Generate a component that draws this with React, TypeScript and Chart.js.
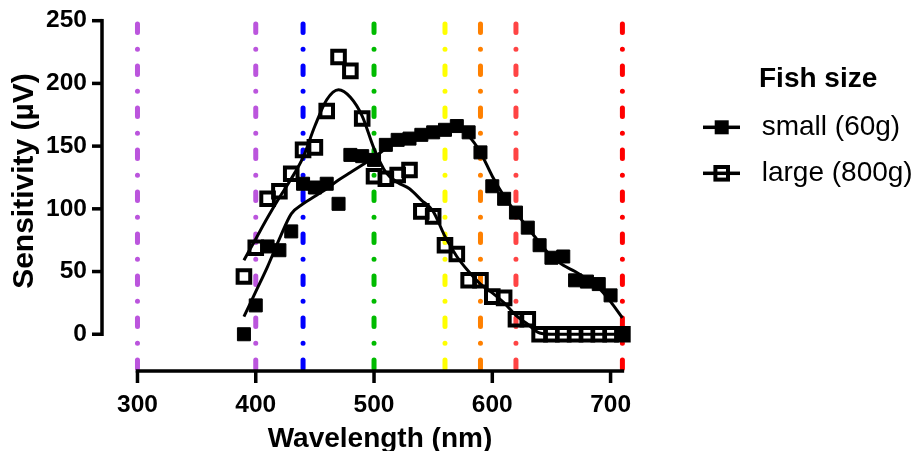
import React, { useEffect, useRef } from 'react';
import { Chart, registerables } from 'chart.js';

Chart.register(...registerables);

// ---- data ----
const wavelengths = [390, 400, 410, 420, 430, 440, 450, 460, 470, 480, 490, 500, 510, 520, 530, 540, 550, 560, 570, 580, 590, 600, 610, 620, 630, 640, 650, 660, 670, 680, 690, 700, 710];
const smallValues = [0, 23, 70, 67, 82, 120, 117, 120, 104, 143, 142, 139, 151, 155, 156, 159, 161, 163, 166, 161, 145, 118, 108, 97, 85, 71, 61, 62, 43, 42, 40, 31, 0];
const largeValues = [46, 69, 108, 114, 128, 147, 149, 178, 221, 210, 172, 126, 124, 127, 131, 98, 94, 71, 64, 43, 43, 30, 29, 12, 12, 0, 0, 0, 0, 0, 0, 0, 0];
const smallFit = [14, 34, 54, 76, 96, 104, 110, 116, 123, 129, 135, 141, 148, 153, 156, 159, 161, 163, 165, 158, 145, 126, 110, 97, 85, 73, 62, 55, 50, 44, 37, 26, 13];
const largeFit = [59, 76, 93, 109, 124, 141, 166, 187, 195, 189, 174, 148, 129, 121, 116, 107, 98, 78, 62, 50, 40, 33, 25, 15, 8, 1, 0, 0, 0, 0, 0, 0, 0];
const xTickValues = [300, 400, 500, 600, 700];
const yTickValues = [0, 50, 100, 150, 200, 250];
const guideWavelengths = [300, 400, 440, 500, 560, 590, 620, 710];
const seriesLabels = ['small (60g)', 'large (800g)'];
const legendTitle = 'Fish size';
const xTitle = 'Wavelength (nm)';
const yTitle = 'Sensitivity (µV)';

// ---- styles ----
const guideColors = ['#bb55dd', '#bb55dd', '#0000ff', '#00bb00', '#ffff00', '#ff8000', '#ff4444', '#ff0000'];
const FONT = '"Liberation Sans", Arial, Helvetica, sans-serif';
const FILLED_R = 9.2;
const OPEN_R = 8.9;
const AXIS_W = 3.5;
const TICK_LEN = 10;

const decorPlugin = {
  id: 'decor',
  beforeDatasetsDraw(chart: any) {
    const { ctx, chartArea, scales } = chart;
    const xs = scales.x;
    const ys = scales.y;
    const top = ys.getPixelForValue(yTickValues[yTickValues.length - 1]);
    ctx.save();
    ctx.lineWidth = 5;
    ctx.lineCap = 'round';
    ctx.setLineDash([8.5, 16.75, 0, 16.75]);
    guideWavelengths.forEach((w, i) => {
      const px = xs.getPixelForValue(w);
      ctx.strokeStyle = guideColors[i];
      ctx.beginPath();
      ctx.moveTo(px, top + 3.35);
      ctx.lineTo(px, chartArea.bottom);
      ctx.stroke();
    });
    ctx.restore();
  },
  afterDraw(chart: any) {
    const { ctx, chartArea, scales } = chart;
    const xs = scales.x;
    const ys = scales.y;
    ctx.save();
    ctx.setLineDash([]);
    ctx.fillStyle = '#000';
    const h = AXIS_W / 2;
    const yTop = ys.getPixelForValue(yTickValues[yTickValues.length - 1]);
    const yZero = ys.getPixelForValue(0);
    // y axis line (0..250)
    ctx.fillRect(chartArea.left - h, yTop - h, AXIS_W, yZero - yTop + AXIS_W);
    // y ticks
    yTickValues.forEach((v) => {
      const py = ys.getPixelForValue(v);
      ctx.fillRect(chartArea.left - TICK_LEN, py - h, TICK_LEN, AXIS_W);
    });
    // x axis line (300..710)
    const x0 = xs.getPixelForValue(xTickValues[0]);
    const x1 = xs.getPixelForValue(wavelengths[wavelengths.length - 1]);
    ctx.fillRect(x0 - h, chartArea.bottom - h, x1 - x0 + AXIS_W, AXIS_W);
    // x ticks
    xTickValues.forEach((v) => {
      const px = xs.getPixelForValue(v);
      ctx.fillRect(px - h, chartArea.bottom, AXIS_W, TICK_LEN + 2);
    });

    // axis titles
    ctx.font = `bold 28px ${FONT}`;
    ctx.textAlign = 'center';
    ctx.textBaseline = 'alphabetic';
    ctx.fillText(xTitle, (x0 + x1) / 2, 447);

    ctx.save();
    ctx.translate(33, 181);
    ctx.rotate(-Math.PI / 2);
    ctx.font = `bold 30px ${FONT}`;
    ctx.fillText(yTitle, 0, 0);
    ctx.restore();

    // legend
    ctx.textAlign = 'left';
    ctx.font = `bold 28px ${FONT}`;
    ctx.fillText(legendTitle, 759, 87);
    const rowsY = [127.3, 173.3];
    ctx.strokeStyle = '#000';
    seriesLabels.forEach((label, i) => {
      const cy = rowsY[i];
      ctx.fillRect(703, cy - h, 37, AXIS_W);
      const cx = 721.7;
      if (i === 0) {
        const s = FILLED_R * Math.SQRT2 + 1;
        ctx.fillRect(cx - s / 2, cy - s / 2, s, s);
      } else {
        const s = OPEN_R * Math.SQRT2;
        ctx.lineWidth = 4;
        ctx.strokeRect(cx - s / 2, cy - s / 2, s, s);
      }
      ctx.font = `28px ${FONT}`;
      ctx.fillText(label, 761.7, cy + 7.5);
    });
    ctx.restore();
  },
};

const hiddenGrid = {
  display: true,
  drawOnChartArea: false,
  drawTicks: true,
  tickLength: TICK_LEN,
  color: 'rgba(0,0,0,0)',
  lineWidth: 0,
};

export default function App() {
  const canvasRef = useRef<HTMLCanvasElement | null>(null);

  useEffect(() => {
    const canvas = canvasRef.current;
    if (!canvas) return;
    const chart = new Chart(canvas, {
      type: 'scatter',
      data: {
        datasets: [
          {
            label: seriesLabels[0],
            data: wavelengths.map((x, i) => ({ x, y: smallValues[i] })),
            showLine: false,
            pointStyle: 'rect',
            pointRadius: FILLED_R,
            backgroundColor: '#000',
            borderColor: '#000',
            borderWidth: 1,
            clip: false,
          } as any,
          {
            label: seriesLabels[1],
            data: wavelengths.map((x, i) => ({ x, y: largeValues[i] })),
            showLine: false,
            pointStyle: 'rect',
            pointRadius: OPEN_R,
            backgroundColor: 'rgba(0,0,0,0)',
            borderColor: '#000',
            borderWidth: 4,
            clip: false,
          } as any,
          {
            label: 'fit small',
            data: wavelengths.map((x, i) => ({ x, y: smallFit[i] })),
            showLine: true,
            pointRadius: 0,
            borderColor: '#000',
            borderWidth: 3,
            cubicInterpolationMode: 'monotone',
            clip: false,
          } as any,
          {
            label: 'fit large',
            data: wavelengths.map((x, i) => ({ x, y: largeFit[i] })),
            showLine: true,
            pointRadius: 0,
            borderColor: '#000',
            borderWidth: 3,
            cubicInterpolationMode: 'monotone',
            clip: false,
          } as any,
        ],
      },
      options: {
        animation: false,
        responsive: true,
        maintainAspectRatio: false,
        layout: { padding: { left: 0, top: 20.7, right: 921 - 622.4, bottom: 0 } },
        plugins: {
          legend: { display: false },
          tooltip: { enabled: false },
        },
        scales: {
          x: {
            type: 'linear',
            min: 270,
            max: 710,
            afterBuildTicks: (s: any) => {
              s.ticks = xTickValues.map((v) => ({ value: v }));
            },
            afterFit: (s: any) => {
              s.height = 80;
            },
            grid: hiddenGrid,
            border: { display: false },
            ticks: {
              color: '#000',
              font: { family: FONT, size: 24.5, weight: 'bold' },
              padding: 10,
              maxRotation: 0,
              autoSkip: false,
            },
          },
          y: {
            type: 'linear',
            min: -29.3,
            max: 250,
            afterBuildTicks: (s: any) => {
              s.ticks = yTickValues.map((v) => ({ value: v }));
            },
            afterFit: (s: any) => {
              s.width = 102;
            },
            grid: hiddenGrid,
            border: { display: false },
            ticks: {
              color: '#000',
              font: { family: FONT, size: 24.5, weight: 'bold' },
              padding: 5,
              autoSkip: false,
            },
          },
        },
      } as any,
      plugins: [decorPlugin],
    });
    return () => chart.destroy();
  }, []);

  return (
    <div style={{ position: 'fixed', left: 0, top: 0, width: 921, height: 451, background: '#fff' }}>
      <canvas ref={canvasRef} />
    </div>
  );
}
